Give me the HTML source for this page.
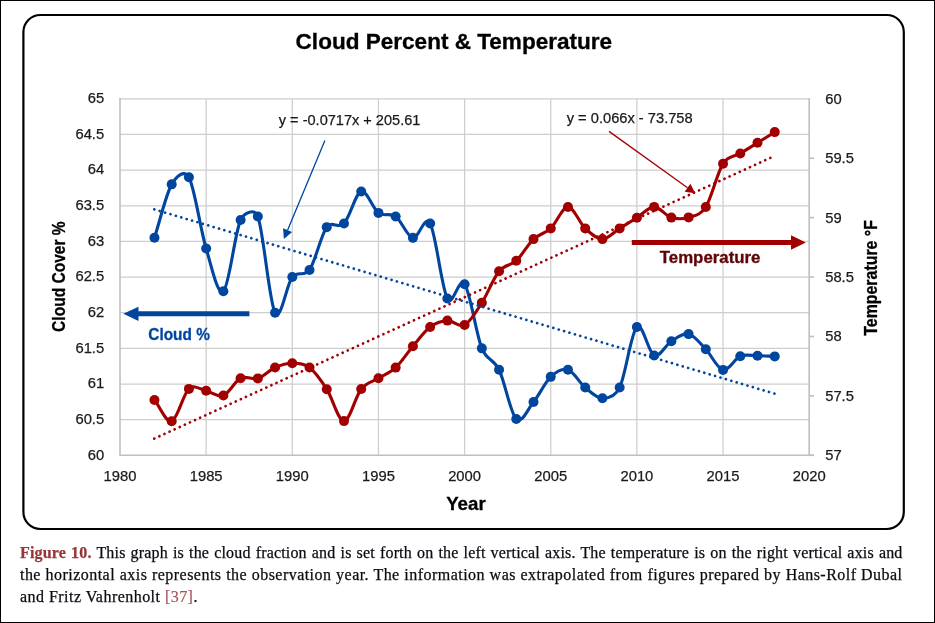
<!DOCTYPE html>
<html lang="en">
<head>
<meta charset="utf-8">
<title>Figure 10 - Cloud Percent &amp; Temperature</title>
<style>
html,body{margin:0;padding:0;background:#fff;}
body{width:935px;height:623px;overflow:hidden;}
#page{position:relative;box-sizing:border-box;width:935px;height:623px;border:1px solid #000;background:#fff;overflow:hidden;}
#cap{position:absolute;left:19px;top:540.6px;width:882.5px;font-family:'Liberation Serif','Times New Roman',serif;font-size:16px;line-height:22.25px;color:#0c0c14;letter-spacing:0.46px;-webkit-text-stroke:0.25px #0c0c14;}
#cap div{white-space:nowrap;text-align:justify;text-align-last:justify;height:22.25px;}
#cap div.last{text-align:left;text-align-last:left;}
#cap b{color:#96353a;-webkit-text-stroke:0.25px #96353a;font-weight:bold;}
#cap span.ref{color:#a4555a;-webkit-text-stroke:0.2px #a4555a;}
</style>
</head>
<body>
<div id="page">
<svg width="933" height="621" viewBox="1 1 933 621" style="position:absolute;left:0;top:0">
<rect x="23.4" y="15" width="880.4" height="514" rx="17" ry="17" fill="#fff" stroke="#000" stroke-width="2.2"/>
<g stroke="#cecece" stroke-width="1.25" fill="none">
<line x1="120.00" y1="98.80" x2="809.20" y2="98.80"/>
<line x1="120.00" y1="134.45" x2="809.20" y2="134.45"/>
<line x1="120.00" y1="170.10" x2="809.20" y2="170.10"/>
<line x1="120.00" y1="205.75" x2="809.20" y2="205.75"/>
<line x1="120.00" y1="241.40" x2="809.20" y2="241.40"/>
<line x1="120.00" y1="277.05" x2="809.20" y2="277.05"/>
<line x1="120.00" y1="312.70" x2="809.20" y2="312.70"/>
<line x1="120.00" y1="348.35" x2="809.20" y2="348.35"/>
<line x1="120.00" y1="384.00" x2="809.20" y2="384.00"/>
<line x1="120.00" y1="419.65" x2="809.20" y2="419.65"/>
<line x1="206.15" y1="98.80" x2="206.15" y2="455.30"/>
<line x1="292.30" y1="98.80" x2="292.30" y2="455.30"/>
<line x1="378.45" y1="98.80" x2="378.45" y2="455.30"/>
<line x1="464.60" y1="98.80" x2="464.60" y2="455.30"/>
<line x1="550.75" y1="98.80" x2="550.75" y2="455.30"/>
<line x1="636.90" y1="98.80" x2="636.90" y2="455.30"/>
<line x1="723.05" y1="98.80" x2="723.05" y2="455.30"/>
</g>
<g stroke="#bfbfbf" stroke-width="1.6" fill="none">
<line x1="120.00" y1="98.00" x2="120.00" y2="456.10"/>
<line x1="809.20" y1="98.00" x2="809.20" y2="456.10"/>
<line x1="120.00" y1="455.30" x2="814.00" y2="455.30"/>
<line x1="809.20" y1="455.30" x2="814.00" y2="455.30"/>
<line x1="809.20" y1="395.88" x2="814.00" y2="395.88"/>
<line x1="809.20" y1="336.47" x2="814.00" y2="336.47"/>
<line x1="809.20" y1="277.05" x2="814.00" y2="277.05"/>
<line x1="809.20" y1="217.63" x2="814.00" y2="217.63"/>
<line x1="809.20" y1="158.22" x2="814.00" y2="158.22"/>
</g>
<path d="M154.46 237.70 C160.20 219.92 165.95 194.44 171.69 184.36 C176.31 176.26 184.51 169.02 188.92 177.23 C194.66 187.93 200.41 229.52 206.15 248.53 C211.89 267.54 217.64 296.06 223.38 291.31 C229.12 286.56 234.87 232.49 240.61 220.01 C244.29 212.02 254.77 208.20 257.84 216.44 C263.58 231.89 269.33 302.60 275.07 312.70 C280.81 322.80 286.56 284.18 292.30 277.05 C298.04 269.92 304.23 277.59 309.53 269.92 C315.27 261.60 321.02 234.86 326.76 227.14 C332.01 220.08 338.25 229.52 343.99 223.57 C349.73 217.63 355.48 193.27 361.22 191.49 C366.96 189.71 372.71 208.72 378.45 212.88 C384.19 217.04 389.94 212.29 395.68 216.44 C401.42 220.60 407.17 236.65 412.91 237.84 C418.65 239.02 424.61 213.85 430.14 223.57 C435.88 233.68 441.63 288.34 447.37 298.44 C452.90 308.16 458.86 275.86 464.60 284.18 C470.34 292.50 476.09 334.09 481.83 348.35 C486.96 361.09 493.32 357.96 499.06 369.74 C504.80 381.51 510.55 413.62 516.29 419.00 C522.03 424.38 527.78 409.02 533.52 402.00 C539.26 394.98 545.01 382.25 550.75 376.87 C556.49 371.49 562.24 367.96 567.98 369.74 C573.72 371.52 579.47 382.81 585.21 387.56 C590.95 392.32 596.70 398.26 602.44 398.26 C608.18 398.26 615.26 396.69 619.67 387.56 C625.41 375.68 631.16 332.31 636.90 326.96 C642.64 321.61 648.39 353.10 654.13 355.48 C659.87 357.86 665.62 344.78 671.36 341.22 C677.10 337.65 682.85 332.74 688.59 334.09 C694.33 335.44 700.08 343.33 705.82 349.30 C711.56 355.27 717.31 368.75 723.05 369.90 C728.79 371.05 734.54 358.57 740.28 356.20 C746.02 353.83 751.77 355.67 757.51 355.70 C763.25 355.73 769.00 356.17 774.74 356.40" fill="none" stroke="#00469f" stroke-width="3.1" stroke-linejoin="round" stroke-linecap="round"/>
<g fill="#00469f">
<circle cx="154.46" cy="237.70" r="5"/>
<circle cx="171.69" cy="184.36" r="5"/>
<circle cx="188.92" cy="177.23" r="5"/>
<circle cx="206.15" cy="248.53" r="5"/>
<circle cx="223.38" cy="291.31" r="5"/>
<circle cx="240.61" cy="220.01" r="5"/>
<circle cx="257.84" cy="216.44" r="5"/>
<circle cx="275.07" cy="312.70" r="5"/>
<circle cx="292.30" cy="277.05" r="5"/>
<circle cx="309.53" cy="269.92" r="5"/>
<circle cx="326.76" cy="227.14" r="5"/>
<circle cx="343.99" cy="223.57" r="5"/>
<circle cx="361.22" cy="191.49" r="5"/>
<circle cx="378.45" cy="212.88" r="5"/>
<circle cx="395.68" cy="216.44" r="5"/>
<circle cx="412.91" cy="237.84" r="5"/>
<circle cx="430.14" cy="223.57" r="5"/>
<circle cx="447.37" cy="298.44" r="5"/>
<circle cx="464.60" cy="284.18" r="5"/>
<circle cx="481.83" cy="348.35" r="5"/>
<circle cx="499.06" cy="369.74" r="5"/>
<circle cx="516.29" cy="419.00" r="5"/>
<circle cx="533.52" cy="402.00" r="5"/>
<circle cx="550.75" cy="376.87" r="5"/>
<circle cx="567.98" cy="369.74" r="5"/>
<circle cx="585.21" cy="387.56" r="5"/>
<circle cx="602.44" cy="398.26" r="5"/>
<circle cx="619.67" cy="387.56" r="5"/>
<circle cx="636.90" cy="326.96" r="5"/>
<circle cx="654.13" cy="355.48" r="5"/>
<circle cx="671.36" cy="341.22" r="5"/>
<circle cx="688.59" cy="334.09" r="5"/>
<circle cx="705.82" cy="349.30" r="5"/>
<circle cx="723.05" cy="369.90" r="5"/>
<circle cx="740.28" cy="356.20" r="5"/>
<circle cx="757.51" cy="355.70" r="5"/>
<circle cx="774.74" cy="356.40" r="5"/>
</g>
<path d="M154.46 400.00 C160.20 407.07 165.95 423.05 171.69 421.20 C177.43 419.35 183.18 393.97 188.92 388.90 C194.66 383.83 200.41 389.70 206.15 390.80 C211.89 391.90 217.64 397.60 223.38 395.50 C229.12 393.40 234.87 381.05 240.61 378.20 C246.35 375.35 252.10 380.18 257.84 378.40 C263.58 376.62 269.33 370.03 275.07 367.50 C280.81 364.97 286.56 363.20 292.30 363.20 C298.04 363.20 303.79 363.17 309.53 367.50 C315.27 371.83 321.02 380.27 326.76 389.20 C332.50 398.13 338.25 421.13 343.99 421.10 C349.73 421.07 355.48 396.13 361.22 389.00 C366.96 381.87 372.71 381.87 378.45 378.30 C384.19 374.73 389.94 372.95 395.68 367.60 C401.42 362.25 407.17 352.97 412.91 346.20 C418.65 339.43 424.40 331.27 430.14 327.00 C435.88 322.73 441.63 320.93 447.37 320.60 C453.11 320.27 458.86 327.97 464.60 325.00 C470.34 322.03 476.09 311.75 481.83 302.80 C487.57 293.85 493.32 278.32 499.06 271.30 C504.80 264.28 510.55 266.07 516.29 260.70 C522.03 255.33 527.78 244.48 533.52 239.10 C539.26 233.72 545.01 233.75 550.75 228.40 C556.49 223.05 562.24 207.00 567.98 207.00 C573.72 207.00 579.47 223.05 585.21 228.40 C590.95 233.75 596.70 239.10 602.44 239.10 C608.18 239.10 613.93 231.97 619.67 228.40 C625.41 224.83 631.16 221.28 636.90 217.70 C642.64 214.12 648.39 206.92 654.13 206.90 C659.87 206.88 665.62 215.85 671.36 217.60 C677.10 219.35 682.85 219.17 688.59 217.40 C694.33 215.63 700.39 215.47 705.82 207.00 C711.56 198.05 717.31 172.62 723.05 163.70 C728.47 155.28 734.54 156.98 740.28 153.50 C746.02 150.02 751.77 146.37 757.51 142.80 C763.25 139.23 769.00 135.67 774.74 132.10" fill="none" stroke="#a20000" stroke-width="3.1" stroke-linejoin="round" stroke-linecap="round"/>
<g fill="#a20000">
<circle cx="154.46" cy="400.00" r="5"/>
<circle cx="171.69" cy="421.20" r="5"/>
<circle cx="188.92" cy="388.90" r="5"/>
<circle cx="206.15" cy="390.80" r="5"/>
<circle cx="223.38" cy="395.50" r="5"/>
<circle cx="240.61" cy="378.20" r="5"/>
<circle cx="257.84" cy="378.40" r="5"/>
<circle cx="275.07" cy="367.50" r="5"/>
<circle cx="292.30" cy="363.20" r="5"/>
<circle cx="309.53" cy="367.50" r="5"/>
<circle cx="326.76" cy="389.20" r="5"/>
<circle cx="343.99" cy="421.10" r="5"/>
<circle cx="361.22" cy="389.00" r="5"/>
<circle cx="378.45" cy="378.30" r="5"/>
<circle cx="395.68" cy="367.60" r="5"/>
<circle cx="412.91" cy="346.20" r="5"/>
<circle cx="430.14" cy="327.00" r="5"/>
<circle cx="447.37" cy="320.60" r="5"/>
<circle cx="464.60" cy="325.00" r="5"/>
<circle cx="481.83" cy="302.80" r="5"/>
<circle cx="499.06" cy="271.30" r="5"/>
<circle cx="516.29" cy="260.70" r="5"/>
<circle cx="533.52" cy="239.10" r="5"/>
<circle cx="550.75" cy="228.40" r="5"/>
<circle cx="567.98" cy="207.00" r="5"/>
<circle cx="585.21" cy="228.40" r="5"/>
<circle cx="602.44" cy="239.10" r="5"/>
<circle cx="619.67" cy="228.40" r="5"/>
<circle cx="636.90" cy="217.70" r="5"/>
<circle cx="654.13" cy="206.90" r="5"/>
<circle cx="671.36" cy="217.60" r="5"/>
<circle cx="688.59" cy="217.40" r="5"/>
<circle cx="705.82" cy="207.00" r="5"/>
<circle cx="723.05" cy="163.70" r="5"/>
<circle cx="740.28" cy="153.50" r="5"/>
<circle cx="757.51" cy="142.80" r="5"/>
<circle cx="774.74" cy="132.10" r="5"/>
</g>
<line x1="154.3" y1="209.4" x2="774.5" y2="393.6" stroke="#00469f" stroke-width="2.7" stroke-linecap="round" stroke-dasharray="0.01 5.615"/>
<line x1="154.3" y1="438.6" x2="774.6" y2="155.95" stroke="#a20000" stroke-width="2.7" stroke-linecap="round" stroke-dasharray="0.01 5.585"/>
<path d="M249.4 311.2 H138.5 V306.7 L123.3 313.8 L138.5 320.9 V316.3 H249.4 Z" fill="#00469f"/>
<path d="M631.8 240 H791 V235.3 L805.8 242.55 L791 249.8 V245.1 H631.8 Z" fill="#a20000"/>
<line x1="324.90" y1="140.60" x2="287.56" y2="230.13" stroke="#00469f" stroke-width="1.30"/>
<path d="M283.90 238.90 L283.03 228.25 L292.08 232.02 Z" fill="#00469f"/>
<line x1="609.00" y1="131.40" x2="687.53" y2="187.76" stroke="#a20000" stroke-width="1.30"/>
<path d="M695.25 193.30 L684.67 191.74 L690.39 183.78 Z" fill="#a20000"/>
<g font-family="'Liberation Sans', Arial, sans-serif" font-size="15.2" fill="#1a1a1a" stroke="#1a1a1a" stroke-width="0.25">
<text x="104.2" y="103.10" text-anchor="end" textLength="16.43" lengthAdjust="spacingAndGlyphs">65</text>
<text x="104.2" y="138.75" text-anchor="end" textLength="28.75" lengthAdjust="spacingAndGlyphs">64.5</text>
<text x="104.2" y="174.40" text-anchor="end" textLength="16.43" lengthAdjust="spacingAndGlyphs">64</text>
<text x="104.2" y="210.05" text-anchor="end" textLength="28.75" lengthAdjust="spacingAndGlyphs">63.5</text>
<text x="104.2" y="245.70" text-anchor="end" textLength="16.43" lengthAdjust="spacingAndGlyphs">63</text>
<text x="104.2" y="281.35" text-anchor="end" textLength="28.75" lengthAdjust="spacingAndGlyphs">62.5</text>
<text x="104.2" y="317.00" text-anchor="end" textLength="16.43" lengthAdjust="spacingAndGlyphs">62</text>
<text x="104.2" y="352.65" text-anchor="end" textLength="28.75" lengthAdjust="spacingAndGlyphs">61.5</text>
<text x="104.2" y="388.30" text-anchor="end" textLength="16.43" lengthAdjust="spacingAndGlyphs">61</text>
<text x="104.2" y="423.95" text-anchor="end" textLength="28.75" lengthAdjust="spacingAndGlyphs">60.5</text>
<text x="104.2" y="459.60" text-anchor="end" textLength="16.43" lengthAdjust="spacingAndGlyphs">60</text>
<text x="825.2" y="460.20" textLength="16.43" lengthAdjust="spacingAndGlyphs">57</text>
<text x="825.2" y="400.78" textLength="28.75" lengthAdjust="spacingAndGlyphs">57.5</text>
<text x="825.2" y="341.37" textLength="16.43" lengthAdjust="spacingAndGlyphs">58</text>
<text x="825.2" y="281.95" textLength="28.75" lengthAdjust="spacingAndGlyphs">58.5</text>
<text x="825.2" y="222.53" textLength="16.43" lengthAdjust="spacingAndGlyphs">59</text>
<text x="825.2" y="163.12" textLength="28.75" lengthAdjust="spacingAndGlyphs">59.5</text>
<text x="825.2" y="103.70" textLength="16.43" lengthAdjust="spacingAndGlyphs">60</text>
<text x="120.00" y="480.6" text-anchor="middle" textLength="32.86" lengthAdjust="spacingAndGlyphs">1980</text>
<text x="206.15" y="480.6" text-anchor="middle" textLength="32.86" lengthAdjust="spacingAndGlyphs">1985</text>
<text x="292.30" y="480.6" text-anchor="middle" textLength="32.86" lengthAdjust="spacingAndGlyphs">1990</text>
<text x="378.45" y="480.6" text-anchor="middle" textLength="32.86" lengthAdjust="spacingAndGlyphs">1995</text>
<text x="464.60" y="480.6" text-anchor="middle" textLength="32.86" lengthAdjust="spacingAndGlyphs">2000</text>
<text x="550.75" y="480.6" text-anchor="middle" textLength="32.86" lengthAdjust="spacingAndGlyphs">2005</text>
<text x="636.90" y="480.6" text-anchor="middle" textLength="32.86" lengthAdjust="spacingAndGlyphs">2010</text>
<text x="723.05" y="480.6" text-anchor="middle" textLength="32.86" lengthAdjust="spacingAndGlyphs">2015</text>
<text x="809.20" y="480.6" text-anchor="middle" textLength="32.86" lengthAdjust="spacingAndGlyphs">2020</text>
<text x="278.8" y="125" textLength="141.6" lengthAdjust="spacingAndGlyphs">y = -0.0717x + 205.61</text>
<text x="566.7" y="122.9" textLength="126" lengthAdjust="spacingAndGlyphs">y = 0.066x - 73.758</text>
</g>
<g font-family="'Liberation Sans', Arial, sans-serif" font-weight="bold" fill="#000" stroke="#000" stroke-width="0.3">
<text x="295.6" y="48.5" font-size="21.3" textLength="316.5" lengthAdjust="spacingAndGlyphs">Cloud Percent &amp; Temperature</text>
<text x="446.2" y="509.9" font-size="18.2" textLength="39.5" lengthAdjust="spacingAndGlyphs">Year</text>
<text transform="translate(65.1 331.9) rotate(-90)" font-size="18.3" textLength="110.6" lengthAdjust="spacingAndGlyphs">Cloud Cover %</text>
<text transform="translate(877.2 335.7) rotate(-90)" font-size="17.5" textLength="115.6" lengthAdjust="spacingAndGlyphs">Temperature °F</text>
<text x="148.3" y="339.6" font-size="15.7" fill="#00469f" stroke="#00469f" textLength="61.6" lengthAdjust="spacingAndGlyphs">Cloud %</text>
<text x="659.8" y="262.9" font-size="15.6" fill="#5e0306" stroke="#5e0306" textLength="100.6" lengthAdjust="spacingAndGlyphs">Temperature</text>
</g>
</svg>
<div id="cap">
<div style="letter-spacing:0.17px"><b>Figure 10.</b> This graph is the cloud fraction and is set forth on the left vertical axis. The temperature is on the right vertical axis and</div>
<div>the horizontal axis represents the observation year. The information was extrapolated from figures prepared by Hans-Rolf Dubal</div>
<div class="last">and Fritz Vahrenholt <span class="ref">[37]</span>.</div>
</div>
</div>
</body>
</html>
